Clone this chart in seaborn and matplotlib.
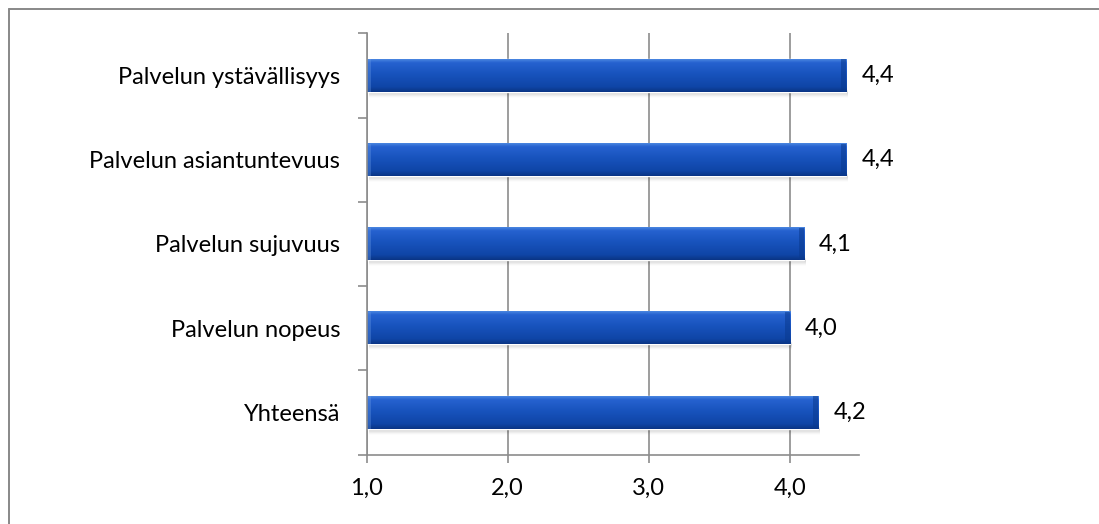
import numpy as np
import pandas as pd
import matplotlib
matplotlib.use("Agg")
import matplotlib.pyplot as plt
from matplotlib.lines import Line2D
from matplotlib.patches import Rectangle
from matplotlib.colors import LinearSegmentedColormap
import seaborn as sns

categories = ["Palvelun ystävällisyys", "Palvelun asiantuntevuus", "Palvelun sujuvuus",
              "Palvelun nopeus", "Yhteensä"]
values = [4.4, 4.4, 4.1, 4.0, 4.2]
x_ticks = [1.0, 2.0, 3.0, 4.0]
x_tick_labels = ["1,0", "2,0", "3,0", "4,0"]

df = pd.DataFrame({"category": categories, "value": values})

sns.set_theme(style="white")
plt.rcParams["font.family"] = ["Lato", "DejaVu Sans"]

GRAY = "#8c8c8c"
FS = 17
X_MIN, X_MAX = 1.0, 4.49

fig = plt.figure(figsize=(10.99, 5.24), dpi=100)
ax = fig.add_axes([0.3336, 0.1326, 0.448, 0.8037])

bar_w = 0.385
sns.barplot(data=df, x="value", y="category", orient="h", color="#1a56c0",
            width=bar_w, ax=ax, zorder=3)

ax.set_xlim(X_MIN, X_MAX)
ax.set_ylim(len(categories) - 0.5, -0.5)

# vertical gradient for the bars (light top, dark bottom)
grad_cmap = LinearSegmentedColormap.from_list(
    "bar", [(0.0, "#4a86e0"), (0.10, "#2662d0"), (0.45, "#1853bd"),
            (0.85, "#0f45a6"), (1.0, "#0a3585")])
grad = np.linspace(0, 1, 64).reshape(-1, 1)
px_y = 1.0 / 84.2   # one pixel in y data units
px_x = 1.0 / 141.0  # one pixel in x data units

for patch in list(ax.patches):
    y0 = patch.get_y()
    w, h = patch.get_width(), patch.get_height()
    x0 = X_MIN
    x1 = patch.get_x() + w
    # soft shadow under the bar
    for i in range(6):
        ax.add_patch(Rectangle((x0 + 2 * px_x, y0 + h - 2 * px_y + i * px_y),
                               x1 - x0, 3 * px_y, facecolor="#000000",
                               alpha=0.07 * (1 - i / 6), lw=0, zorder=2))
    ax.imshow(grad, cmap=grad_cmap, aspect="auto", origin="upper",
              extent=(x0, x1, y0 + h, y0), zorder=4, interpolation="bilinear")
    # darker bevel at the right end
    ax.add_patch(Rectangle((x1 - 5 * px_x, y0), 5 * px_x, h,
                           facecolor="#0a3a8f", alpha=0.55, lw=0, zorder=5))
    # lighter bevel at the left end
    ax.add_patch(Rectangle((x0, y0), 4 * px_x, h,
                           facecolor="#6a9be6", alpha=0.35, lw=0, zorder=5))

ax.set_xlim(X_MIN, X_MAX)
ax.set_ylim(len(categories) - 0.5, -0.5)

# value labels with decimal comma
ax.bar_label(ax.containers[0],
             labels=[f"{v:.1f}".replace(".", ",") for v in values],
             padding=11, fontsize=FS, color="black", zorder=6)

ax.set_xticks(x_ticks)
ax.set_xticklabels(x_tick_labels, fontsize=FS)
ax.set_yticks(range(len(categories)))
ax.set_yticklabels(categories, fontsize=FS)
ax.set_yticks(np.arange(-0.5, len(categories), 1.0), minor=True)
ax.tick_params(axis="y", which="major", length=0, pad=19, colors="black")
ax.tick_params(axis="y", which="minor", length=6.5, width=1.2, color=GRAY, left=True)
ax.tick_params(axis="x", which="major", length=6, width=1.2, color=GRAY,
               pad=11, labelcolor="black", bottom=True)
ax.set_xlabel("")
ax.set_ylabel("")

ax.grid(axis="x", color=GRAY, lw=1.2, zorder=1)
ax.set_axisbelow(True)
for s in ["top", "right"]:
    ax.spines[s].set_visible(False)
for s in ["left", "bottom"]:
    ax.spines[s].set_color(GRAY)
    ax.spines[s].set_linewidth(1.2)
    ax.spines[s].set_zorder(6)

# chart frame (top and left edges)
fig.add_artist(Line2D([8.5 / 1099, 1.0], [1 - 8.5 / 524, 1 - 8.5 / 524],
                      transform=fig.transFigure, color="#888888", lw=1.4))
fig.add_artist(Line2D([8.5 / 1099, 8.5 / 1099], [0.0, 1 - 8.5 / 524],
                      transform=fig.transFigure, color="#888888", lw=1.4))

fig.savefig("out.png", dpi=100, facecolor="white")
